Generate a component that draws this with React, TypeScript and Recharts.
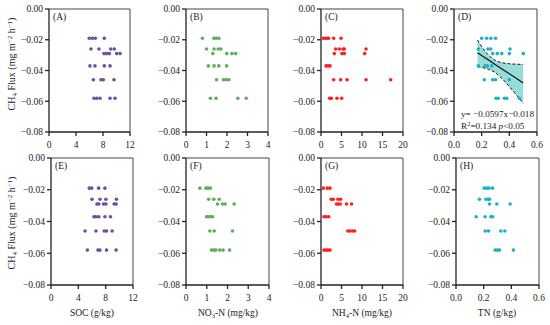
import React from 'react'
import { ComposedChart, Scatter, XAxis, YAxis, Area, Line, ReferenceLine } from 'recharts'

const FONT = '"Liberation Serif", "Times New Roman", serif'

// CH4 flux levels shared by every panel (one row of points per level)
const fluxLevels = [-0.019, -0.026, -0.029, -0.037, -0.046, -0.058]
const fluxTicks = [0, -0.02, -0.04, -0.06, -0.08]

const socTicks = [0, 4, 8, 12]
const no3Ticks = [0, 1, 2, 3, 4]
const nh4Ticks = [0, 5, 10, 15, 20]
const tnTicks = [0, 0.2, 0.4, 0.6]

// top row (A-D)
const socTop = [
  [5.97, 6.42, 6.86, 8.19],
  [6.22, 7.4, 9.14, 9.67],
  [8.15, 8.55, 8.93, 10.03, 10.52],
  [6.07, 6.81, 8.19, 9.04],
  [6.57, 7.7, 8.05, 9.63],
  [6.67, 7.07, 7.56, 9.04, 9.78],
]
const no3Top = [
  [0.8, 1.36, 1.47, 1.6],
  [1.0, 1.37, 1.57, 1.7],
  [1.31, 1.99, 2.24, 2.42],
  [1.09, 1.37, 1.6, 1.98],
  [1.49, 1.83, 1.96, 2.09],
  [1.19, 1.47, 2.53, 2.94],
]
const nh4Top = [
  [0.57, 1.06, 1.46, 1.87, 3.09, 4.88],
  [3.58, 4.47, 5.37, 5.69, 10.98],
  [3.25, 5.12, 5.69, 10.65],
  [1.22, 1.71, 2.2],
  [3.09, 4.8, 6.34, 10.98, 16.99],
  [2.11, 2.52, 3.9, 5.04],
]
const tnTop = [
  [0.2, 0.236, 0.267, 0.301],
  [0.176, 0.245, 0.265, 0.405],
  [0.28, 0.313, 0.345, 0.4, 0.501],
  [0.176, 0.224, 0.241, 0.273],
  [0.219, 0.28, 0.301, 0.4],
  [0.304, 0.32, 0.364, 0.381, 0.472],
]

// bottom row (E-H)
const socBottom = [
  [5.61, 5.95, 6.97, 7.89],
  [6.0, 7.16, 8.03, 9.58],
  [6.72, 7.0, 7.69, 8.03, 9.24, 9.53],
  [6.29, 6.58, 7.0, 7.89, 8.7],
  [4.98, 6.58, 7.79, 8.13, 8.95],
  [5.32, 6.87, 7.16, 8.13, 9.53],
]
const no3Bottom = [
  [0.67, 0.96, 1.06, 1.17],
  [1.09, 1.34, 1.6],
  [1.52, 1.76, 1.89, 2.32],
  [0.99, 1.07, 1.18, 1.28],
  [1.15, 1.36, 2.24],
  [1.23, 1.34, 1.44, 1.63, 1.79, 2.1],
]
const nh4Bottom = [
  [0.57, 1.54, 2.19],
  [2.51, 3.0, 4.13, 4.78],
  [3.8, 4.21, 4.7, 6.23, 7.45],
  [0.73, 1.21, 1.86],
  [6.56, 7.04, 7.69, 8.18],
  [0.73, 1.21, 1.7, 2.19],
]
const tnBottom = [
  [0.204, 0.223, 0.238, 0.264],
  [0.17, 0.216, 0.233, 0.242],
  [0.242, 0.295, 0.391],
  [0.146, 0.211, 0.252, 0.264],
  [0.211, 0.235, 0.324, 0.353],
  [0.283, 0.3, 0.314, 0.415],
]

// regression of panel D
const bandX = [0.17, 0.2, 0.25, 0.3, 0.35, 0.4, 0.45, 0.5]
const bandUpper = [-0.0202, -0.0245, -0.03, -0.0335, -0.035, -0.0356, -0.0359, -0.036]
const bandLower = [-0.0375, -0.038, -0.0392, -0.0415, -0.0455, -0.0505, -0.0558, -0.0614]
const fitY = [-0.0284, -0.0302, -0.0332, -0.0362, -0.0392, -0.0421, -0.0451, -0.0481]

const bandRows = bandX.map((x, i) => ({ x, upper: bandUpper[i], lower: bandLower[i], fit: fitY[i] }))

const fmtFlux = (v: number) => (v === 0 ? '0.00' : '\u2212' + Math.abs(v).toFixed(2))

type PanelProps = {
  rows: number[][]
  color: string
  xTicks: number[]
  digits: number
  left: number
  top: number
  width: number
  height: number
  band?: boolean
}

function Panel({ rows, color, xTicks, digits, left, top, width, height, band }: PanelProps) {
  const points = rows.flatMap((xs, i) => xs.map((x) => ({ x, y: fluxLevels[i] })))
  const xMax = xTicks[xTicks.length - 1]
  const tick = { fontSize: 9.5, fill: '#222', fontFamily: FONT }
  const axisLine = { stroke: '#222', strokeWidth: 1.3 }
  return (
    <div style={{ position: 'absolute', left: left - 45, top: top - 5 }}>
      <ComposedChart
        width={45 + width + 10}
        height={5 + height + 25}
        data={band ? bandRows : undefined}
        margin={{ top: 5, right: 10, bottom: 0, left: 0 }}
      >
        <XAxis
          type="number"
          dataKey="x"
          domain={[0, xMax]}
          ticks={xTicks}
          interval={0}
          allowDataOverflow
          height={25}
          tickSize={4}
          tickMargin={5}
          tick={tick}
          axisLine={axisLine}
          tickLine={axisLine}
          tickFormatter={(v) => Number(v).toFixed(digits)}
        />
        <YAxis
          type="number"
          dataKey="y"
          domain={[-0.08, 0]}
          ticks={fluxTicks}
          interval={0}
          allowDataOverflow
          width={45}
          tickSize={4}
          tickMargin={2}
          tick={tick}
          axisLine={axisLine}
          tickLine={axisLine}
          tickFormatter={fmtFlux}
        />
        <ReferenceLine y={0} stroke="#444" strokeWidth={1} />
        <ReferenceLine x={xMax} stroke="#444" strokeWidth={1} />
        {band && (
          <Area
            type="monotone"
            dataKey={(d: any) => [d.lower, d.upper]}
            stroke="#111"
            strokeWidth={1}
            strokeDasharray="3 2"
            fill="#96dcd9"
            fillOpacity={1}
            dot={false}
            activeDot={false}
            isAnimationActive={false}
          />
        )}
        {band && (
          <Line
            type="linear"
            dataKey="fit"
            stroke="#111"
            strokeWidth={1.2}
            dot={false}
            activeDot={false}
            isAnimationActive={false}
          />
        )}
        <Scatter
          data={points}
          isAnimationActive={false}
          shape={(p: any) => <circle cx={p.cx} cy={p.cy} r={1.8} fill={color} />}
        />
      </ComposedChart>
    </div>
  )
}

function YTitle({ cy }: { cy: number }) {
  return (
    <text transform={`translate(15, ${cy}) rotate(-90)`} textAnchor="middle" fontSize={10} fontFamily={FONT} fill="#222">
      CH<tspan dy={2} fontSize={7}>4</tspan>
      <tspan dy={-2}> Flux (mg m</tspan>
      <tspan dy={-3.5} fontSize={7}>{'\u22122'}</tspan>
      <tspan dy={3.5}> h</tspan>
      <tspan dy={-3.5} fontSize={7}>{'\u22121'}</tspan>
      <tspan dy={3.5}>)</tspan>
    </text>
  )
}

const purple = '#6a4fa5'
const green = '#5cae57'
const red = '#ff1f1f'
const cyan = '#1cb0c9'

export default function App() {
  const letters = [
    ['(A)', 49, 9], ['(B)', 186, 9], ['(C)', 321, 9], ['(D)', 454, 9],
    ['(E)', 51, 158], ['(F)', 186, 158], ['(G)', 321, 158], ['(H)', 456, 158],
  ] as const
  const txt = { fontSize: 9.5, fontFamily: FONT, fill: '#222' }
  return (
    <div style={{ position: 'absolute', left: 0, top: 0, width: 550, height: 325, background: '#fff' }}>
      <Panel rows={socTop} color={purple} xTicks={socTicks} digits={0} left={49} top={9} width={81} height={123} />
      <Panel rows={no3Top} color={green} xTicks={no3Ticks} digits={0} left={186} top={9} width={82} height={123} />
      <Panel rows={nh4Top} color={red} xTicks={nh4Ticks} digits={0} left={321} top={9} width={82} height={123} />
      <Panel rows={tnTop} color={cyan} xTicks={tnTicks} digits={1} left={454} top={9} width={83} height={123} band />
      <Panel rows={socBottom} color={purple} xTicks={socTicks} digits={0} left={51} top={158} width={82} height={127} />
      <Panel rows={no3Bottom} color={green} xTicks={no3Ticks} digits={0} left={186} top={158} width={83} height={127} />
      <Panel rows={nh4Bottom} color={red} xTicks={nh4Ticks} digits={0} left={321} top={158} width={82} height={127} />
      <Panel rows={tnBottom} color={cyan} xTicks={tnTicks} digits={1} left={456} top={158} width={83} height={127} />
      <svg width={550} height={325} style={{ position: 'absolute', left: 0, top: 0, pointerEvents: 'none' }}>
        <YTitle cy={64} />
        <YTitle cy={223} />
        {letters.map(([s, x, y]) => (
          <text key={s} x={x + 4} y={y + 11} {...txt}>{s}</text>
        ))}
        <text x={461} y={116.5} fontSize={9.2} fontFamily={FONT} fill="#222">y= {'\u2212'}0.0597x{'\u2212'}0.018</text>
        <text x={461} y={129} fontSize={9.2} fontFamily={FONT} fill="#222">
          R<tspan dy={-3.5} fontSize={6.5}>2</tspan>
          <tspan dy={3.5}>=0.134  </tspan>
          <tspan fontStyle="italic">p</tspan>
          <tspan>{'<'}0.05</tspan>
        </text>
        <text x={92} y={316} textAnchor="middle" {...txt}>SOC (g/kg)</text>
        <text x={228} y={316} textAnchor="middle" {...txt}>
          NO<tspan dy={2} fontSize={6.5}>3</tspan>
          <tspan dy={-2}>-N (mg/kg)</tspan>
        </text>
        <text x={362} y={316} textAnchor="middle" {...txt}>
          NH<tspan dy={2} fontSize={6.5}>4</tspan>
          <tspan dy={-2}>-N (mg/kg)</tspan>
        </text>
        <text x={497} y={316} textAnchor="middle" {...txt}>TN (g/kg)</text>
      </svg>
    </div>
  )
}
